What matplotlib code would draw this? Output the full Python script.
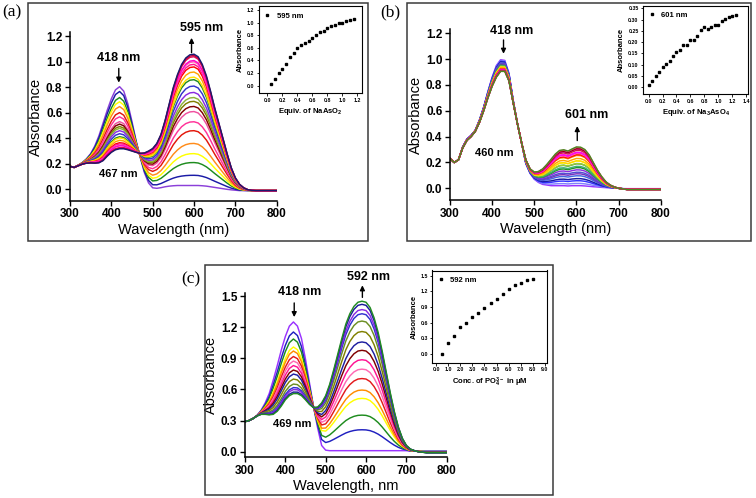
import numpy as np
import matplotlib
matplotlib.use('Agg')
import matplotlib.pyplot as plt
from matplotlib.patches import Rectangle
from matplotlib.ticker import FormatStrFormatter

plt.rcParams['font.family'] = ['Liberation Sans', 'DejaVu Sans']
plt.rcParams['mathtext.fontset'] = 'custom'
plt.rcParams['mathtext.rm'] = 'Liberation Sans:bold'
plt.rcParams['mathtext.bf'] = 'Liberation Sans:bold'
plt.rcParams['mathtext.default'] = 'bf'

# wavelength grid (nm)
wl = np.arange(300, 801, 10)

# (a) first and last spectra
spec_a_first = [0.18, 0.172, 0.19, 0.21, 0.24, 0.28, 0.34, 0.42, 0.52, 0.62,
                0.71, 0.78, 0.805, 0.77, 0.67, 0.53, 0.38, 0.25, 0.13, 0.05,
                0.012, 0.008, 0.013, 0.02, 0.025, 0.028, 0.03, 0.03, 0.03, 0.03,
                0.03, 0.03, 0.028, 0.025, 0.02, 0.015, 0.01, 0.005, 0.0, -0.004,
                -0.007, -0.01, -0.01, -0.01, -0.01, -0.01, -0.01, -0.01, -0.01, -0.01, -0.01]
spec_a_last = [0.18, 0.172, 0.185, 0.198, 0.205, 0.207, 0.205, 0.208, 0.225, 0.26,
               0.29, 0.31, 0.318, 0.318, 0.31, 0.30, 0.29, 0.282, 0.285, 0.30,
               0.32, 0.36, 0.43, 0.54, 0.67, 0.80, 0.90, 0.98, 1.03, 1.055,
               1.06, 1.04, 0.98, 0.89, 0.77, 0.64, 0.52, 0.40, 0.28, 0.17,
               0.09, 0.04, 0.012, -0.003, -0.008, -0.01, -0.01, -0.01, -0.01, -0.01, -0.01]
equiv_a = [0.05, 0.10, 0.15, 0.20, 0.25, 0.30, 0.35, 0.40, 0.45, 0.50, 0.55, 0.60,
           0.65, 0.70, 0.75, 0.80, 0.85, 0.90, 0.95, 1.00, 1.05, 1.10, 1.15]
abs595 = [0.02, 0.10, 0.20, 0.27, 0.35, 0.45, 0.52, 0.60, 0.64, 0.68, 0.71, 0.75,
          0.80, 0.85, 0.87, 0.91, 0.95, 0.97, 0.99, 1.00, 1.03, 1.04, 1.05]
colors_a = ['#8B3FD9', '#1A1AA6', '#1E8C1E', '#FFFF00', '#FF8C1A', '#E3170A',
            '#FF3399', '#F0509F', '#800000', '#808000', '#8DB33A', '#8A2BE2',
            '#3333CC', '#228B22', '#FFE600', '#FFA500', '#FF0000', '#FF1493',
            '#FF69B4', '#FF00CC', '#E0115F', '#CC0033', '#1A1A70']

# (b)
spec_b_first = [0.23, 0.2, 0.22, 0.32, 0.38, 0.41, 0.45, 0.53, 0.63, 0.75,
                0.86, 0.95, 0.995, 0.99, 0.89, 0.68, 0.5, 0.35, 0.19, 0.115,
                0.07, 0.045, 0.03, 0.025, 0.02, 0.02, 0.02, 0.02, 0.018, 0.02,
                0.02, 0.02, 0.018, 0.015, 0.012, 0.01, 0.007, 0.005, 0.003, 0.001,
                0.0, -0.003, -0.003, -0.003, -0.003, -0.003, -0.003, -0.003, -0.003, -0.003, -0.003]
spec_b_last = [0.23, 0.2, 0.22, 0.31, 0.37, 0.40, 0.44, 0.51, 0.60, 0.70,
               0.79, 0.86, 0.905, 0.905, 0.83, 0.66, 0.5, 0.35, 0.22, 0.15,
               0.125, 0.13, 0.15, 0.185, 0.225, 0.265, 0.293, 0.298, 0.288, 0.305,
               0.32, 0.318, 0.30, 0.26, 0.2, 0.14, 0.09, 0.05, 0.025, 0.01,
               0.0, -0.005, -0.01, -0.01, -0.01, -0.01, -0.01, -0.01, -0.01, -0.01, -0.01]
equiv_b = [0.0, 0.05, 0.10, 0.15, 0.20, 0.25, 0.30, 0.35, 0.40, 0.45, 0.50, 0.55, 0.60,
           0.65, 0.70, 0.75, 0.80, 0.85, 0.90, 0.95, 1.00, 1.05, 1.10, 1.15, 1.20, 1.25]
abs601 = [0.009, 0.027, 0.049, 0.066, 0.089, 0.105, 0.118, 0.137, 0.155, 0.165,
          0.186, 0.188, 0.208, 0.21, 0.229, 0.253, 0.266, 0.26, 0.269, 0.278,
          0.278, 0.295, 0.304, 0.31, 0.318, 0.322]
colors_b = ['#9933FF', '#8080FF', '#3333FF', '#1A1AA6', '#4169E1', '#7B2FBE',
            '#5050D0', '#8A2BE2', '#228B22', '#3CB371', '#2E8B57', '#9ACD32',
            '#FFFF00', '#FFD700', '#FFA500', '#FF8C00', '#FF4500', '#FF0000',
            '#FF69B4', '#FF1493', '#FF00FF', '#DC143C', '#C71585', '#8B0000',
            '#FF3399', '#4B8B1E']

# (c)
spec_c_first = [0.29, 0.30, 0.32, 0.35, 0.40, 0.47, 0.56, 0.69, 0.83, 0.98,
                1.11, 1.21, 1.25, 1.21, 1.09, 0.89, 0.66, 0.43, 0.23, 0.06,
                0.015, 0.01, 0.01, 0.01, 0.01, 0.01, 0.01, 0.01, 0.01, 0.01,
                0.01, 0.01, 0.01, 0.01, 0.01, 0.01, 0.01, 0.01, 0.01, 0.01,
                0.01, 0.005, 0.005, 0.005, 0.005, 0.005, 0.005, 0.005, 0.005, 0.005, 0.005]
spec_c_last = [0.29, 0.30, 0.32, 0.345, 0.36, 0.36, 0.355, 0.36, 0.39, 0.44,
               0.5, 0.54, 0.56, 0.56, 0.54, 0.50, 0.455, 0.425, 0.43, 0.47,
               0.54, 0.65, 0.79, 0.94, 1.09, 1.23, 1.33, 1.40, 1.44, 1.45,
               1.44, 1.39, 1.29, 1.15, 0.97, 0.77, 0.57, 0.39, 0.24, 0.13,
               0.06, 0.025, 0.01, 0.0, -0.005, -0.01, -0.01, -0.01, -0.01, -0.01, -0.01]
conc_c = [0.5, 1.0, 1.5, 2.0, 2.5, 3.0, 3.5, 4.0, 4.5, 5.0, 5.5, 6.0, 6.5, 7.0, 7.5, 8.0]
abs592 = [0.01, 0.21, 0.35, 0.51, 0.59, 0.70, 0.79, 0.88, 0.97, 1.05, 1.15, 1.25,
          1.32, 1.36, 1.41, 1.44]
colors_c = ['#9933FF', '#2020C0', '#1E8C1E', '#FFFF00', '#FF8C00', '#E31A1C',
            '#FF69B4', '#FF1493', '#800000', '#1F1FA0', '#808000', '#6B8E23',
            '#3030D0', '#8A2BE2', '#1A1A99', '#228B22']

W, H = 756, 498
fig = plt.figure(figsize=(7.56, 4.98), dpi=100)


def px_box(l, t, r, b):
    return [l / W, 1 - b / H, (r - l) / W, (b - t) / H]


def frame(l, t, r, b):
    fig.patches.append(Rectangle((l / W, 1 - b / H), (r - l) / W, (b - t) / H,
                                 transform=fig.transFigure, fill=False, lw=1.1, ec='#3a3a3a'))


def main_plot(box, first, last, vals, colors, ylim, yticks, xlabel):
    ax = fig.add_axes(px_box(*box))
    first = np.array(first)
    last = np.array(last)
    for v, c in zip(vals, colors):
        f = (v - vals[0]) / (vals[-1] - vals[0])
        ax.plot(wl, first + f * (last - first), color=c, lw=1.05)
    ax.set_xlim(300, 800)
    ax.set_ylim(*ylim)
    ax.set_xticks([300, 400, 500, 600, 700, 800])
    ax.set_yticks(yticks)
    ax.yaxis.set_major_formatter(FormatStrFormatter('%.1f'))
    ax.spines['top'].set_visible(False)
    ax.spines['right'].set_visible(False)
    ax.spines['left'].set_linewidth(1.1)
    ax.spines['bottom'].set_linewidth(1.1)
    ax.tick_params(direction='out', length=3.5, width=1.0, labelsize=8.5, pad=2)
    for lab in ax.get_xticklabels() + ax.get_yticklabels():
        lab.set_fontweight('bold')
    ax.set_xlabel(xlabel, fontsize=10.5, labelpad=1.5)
    ax.set_ylabel('Absorbance', fontsize=10.5, labelpad=2)
    return ax


def inset_plot(box, x, y, label, xlim, ylim, xticks, yticks, xfmt, yfmt, xlabel):
    ax = fig.add_axes(px_box(*box))
    ax.plot(x, y, 's', color='k', ms=1.7, label=label)
    ax.set_xlim(*xlim)
    ax.set_ylim(*ylim)
    ax.set_xticks(xticks)
    ax.set_yticks(yticks)
    ax.xaxis.set_major_formatter(FormatStrFormatter(xfmt))
    ax.yaxis.set_major_formatter(FormatStrFormatter(yfmt))
    for s in ax.spines.values():
        s.set_linewidth(0.8)
    ax.tick_params(direction='out', length=1.8, width=0.6, labelsize=3.8, pad=1.5)
    for lab in ax.get_xticklabels() + ax.get_yticklabels():
        lab.set_fontweight('bold')
    ax.set_xlabel(xlabel, fontsize=5.5, fontweight='bold', labelpad=2)
    ax.set_ylabel('Absorbance', fontsize=5.5, fontweight='bold', labelpad=2)
    ax.legend(loc='upper left', frameon=False, prop={'weight': 'bold', 'size': 5.5},
              handlelength=0.6, handletextpad=0.9, borderaxespad=0.4)
    return ax


def arrow(ax, x, y0, y1):
    ax.annotate('', xy=(x, y1), xytext=(x, y0), annotation_clip=False,
                arrowprops=dict(arrowstyle='-|>', color='k', lw=1.0, mutation_scale=7))


# panel frames and letters
frame(28, 3, 368, 241)
frame(407, 3, 751, 241)
frame(205, 265, 553, 495)
fig.text(2 / W, 1 - 12 / H, '(a)', family='Liberation Serif', fontsize=12.5, va='center')
fig.text(380 / W, 1 - 12 / H, '(b)', family='Liberation Serif', fontsize=12.5, va='center')
fig.text(181 / W, 1 - 279 / H, '(c)', family='Liberation Serif', fontsize=12.5, va='center')

# (a)
ax = main_plot((70, 32.5, 276.7, 200.8), spec_a_first, spec_a_last, abs595, colors_a,
               (-0.09, 1.23), [0.0, 0.2, 0.4, 0.6, 0.8, 1.0, 1.2], 'Wavelength (nm)')
ax.text(418, 1.03, '418 nm', ha='center', va='center', fontsize=9, fontweight='bold')
arrow(ax, 418, 0.97, 0.815)
ax.text(618, 1.265, '595 nm', ha='center', va='center', fontsize=9, fontweight='bold')
arrow(ax, 594, 1.05, 1.21)
ax.text(417, 0.12, '467 nm', ha='center', va='center', fontsize=8, fontweight='bold')
inset_plot((259, 6.2, 361.8, 93.3), equiv_a, abs595, '595 nm', (-0.11, 1.26), (-0.12, 1.26),
           [0.0, 0.2, 0.4, 0.6, 0.8, 1.0, 1.2], [0.0, 0.2, 0.4, 0.6, 0.8, 1.0, 1.2],
           '%.1f', '%.1f', 'Equiv. of NaAsO$_2$')

# (b)
ax = main_plot((450, 29.4, 660.7, 199.9), spec_b_first, spec_b_last, abs601, colors_b,
               (-0.09, 1.23), [0.0, 0.2, 0.4, 0.6, 0.8, 1.0, 1.2], 'Wavelength (nm)')
ax.text(446, 1.22, '418 nm', ha='center', va='center', fontsize=9, fontweight='bold')
arrow(ax, 427, 1.17, 1.02)
ax.text(624, 0.567, '601 nm', ha='center', va='center', fontsize=9, fontweight='bold')
arrow(ax, 602, 0.348, 0.503)
ax.text(405, 0.27, '460 nm', ha='center', va='center', fontsize=8, fontweight='bold')
inset_plot((643.1, 5.6, 748.1, 94.3), equiv_b, abs601, '601 nm', (-0.08, 1.43), (-0.031, 0.362),
           [0.0, 0.2, 0.4, 0.6, 0.8, 1.0, 1.2, 1.4],
           [0.0, 0.05, 0.10, 0.15, 0.20, 0.25, 0.30, 0.35],
           '%.1f', '%.2f', 'Equiv. of Na$_3$AsO$_4$')

# (c)
ax = main_plot((245, 292.9, 446.7, 456.9), spec_c_first, spec_c_last, abs592, colors_c,
               (-0.05, 1.53), [0.0, 0.3, 0.6, 0.9, 1.2, 1.5], 'Wavelength, nm')
ax.text(436, 1.535, '418 nm', ha='center', va='center', fontsize=9, fontweight='bold')
arrow(ax, 422, 1.46, 1.27)
ax.text(606, 1.686, '592 nm', ha='center', va='center', fontsize=9, fontweight='bold')
arrow(ax, 591, 1.46, 1.63)
ax.text(417, 0.27, '469 nm', ha='center', va='center', fontsize=8, fontweight='bold')
inset_plot((432.4, 270.5, 547.4, 362.9), conc_c, abs592, '592 nm', (-0.3, 9.2), (-0.17, 1.6),
           [0, 1, 2, 3, 4, 5, 6, 7, 8, 9], [0.0, 0.3, 0.6, 0.9, 1.2, 1.5],
           '%.1f', '%.1f', 'Conc. of PO$_4^{3-}$ in μM')

fig.savefig('out.png', dpi=100)
